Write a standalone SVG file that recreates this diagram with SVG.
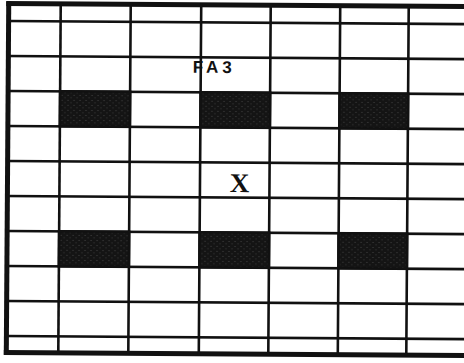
<svg xmlns="http://www.w3.org/2000/svg" width="464" height="363" viewBox="0 0 464 363">
<style>
.g{stroke:#111;stroke-width:2.6;fill:none;stroke-linecap:square}
.b{stroke:#111;stroke-width:5;fill:none}
.blk{fill:url(#stip);stroke:#111;stroke-width:2.6}
.lbl{font-family:"Liberation Sans",Arial,sans-serif;font-weight:bold;font-size:17px;fill:#111}
.x{font-family:"Liberation Serif","Times New Roman",serif;font-weight:bold;font-size:27px;fill:#111}
</style>
<defs>
<pattern id="stip" width="6" height="5" patternUnits="userSpaceOnUse">
<rect width="6" height="5" fill="#141414"/>
<circle cx="1.5" cy="1.5" r="0.6" fill="#4a4a4a"/>
<circle cx="4.5" cy="3.8" r="0.6" fill="#3c3c3c"/>
</pattern>
</defs>
<rect width="464" height="363" fill="#fff"/>
<g transform="rotate(0.4 232 181)">
<g id="grid">
<line class="b" x1="5" y1="5" x2="470" y2="5"/>
<line class="b" x1="7.5" y1="3" x2="7.5" y2="356"/>
<line class="b" x1="5" y1="354" x2="470" y2="354"/>
<line class="g" x1="7.5" y1="22.5" x2="470" y2="22.5"/>
<line class="g" x1="7.5" y1="57.5" x2="470" y2="57.5"/>
<line class="g" x1="7.5" y1="92.5" x2="470" y2="92.5"/>
<line class="g" x1="7.5" y1="127.5" x2="470" y2="127.5"/>
<line class="g" x1="7.5" y1="162.5" x2="470" y2="162.5"/>
<line class="g" x1="7.5" y1="197.5" x2="470" y2="197.5"/>
<line class="g" x1="7.5" y1="232.5" x2="470" y2="232.5"/>
<line class="g" x1="7.5" y1="267.5" x2="470" y2="267.5"/>
<line class="g" x1="7.5" y1="302.5" x2="470" y2="302.5"/>
<line class="g" x1="7.5" y1="337.5" x2="470" y2="337.5"/>
<line class="g" x1="59.5" y1="5" x2="59.5" y2="354"/>
<line class="g" x1="129.5" y1="5" x2="129.5" y2="354"/>
<line class="g" x1="200" y1="5" x2="200" y2="354"/>
<line class="g" x1="269.5" y1="5" x2="269.5" y2="354"/>
<line class="g" x1="339" y1="5" x2="339" y2="354"/>
<line class="g" x1="407.5" y1="5" x2="407.5" y2="354"/>
</g>
<g id="block-1"><rect class="blk" x="59.5" y="92.5" width="70" height="35"/></g>
<g id="block-2"><rect class="blk" x="200" y="92.5" width="69.5" height="35"/></g>
<g id="block-3"><rect class="blk" x="339" y="92.5" width="68.5" height="35"/></g>
<g id="block-4"><rect class="blk" x="59.5" y="232.5" width="70" height="35"/></g>
<g id="block-5"><rect class="blk" x="200" y="232.5" width="69.5" height="35"/></g>
<g id="block-6"><rect class="blk" x="339" y="232.5" width="68.5" height="35"/></g>
<g id="label-fa3"><text class="lbl" x="192" y="73" textLength="39" lengthAdjust="spacing">FA3</text></g>
<g id="label-x"><text class="x" x="239.5" y="192" text-anchor="middle">X</text></g>
</g>
</svg>
